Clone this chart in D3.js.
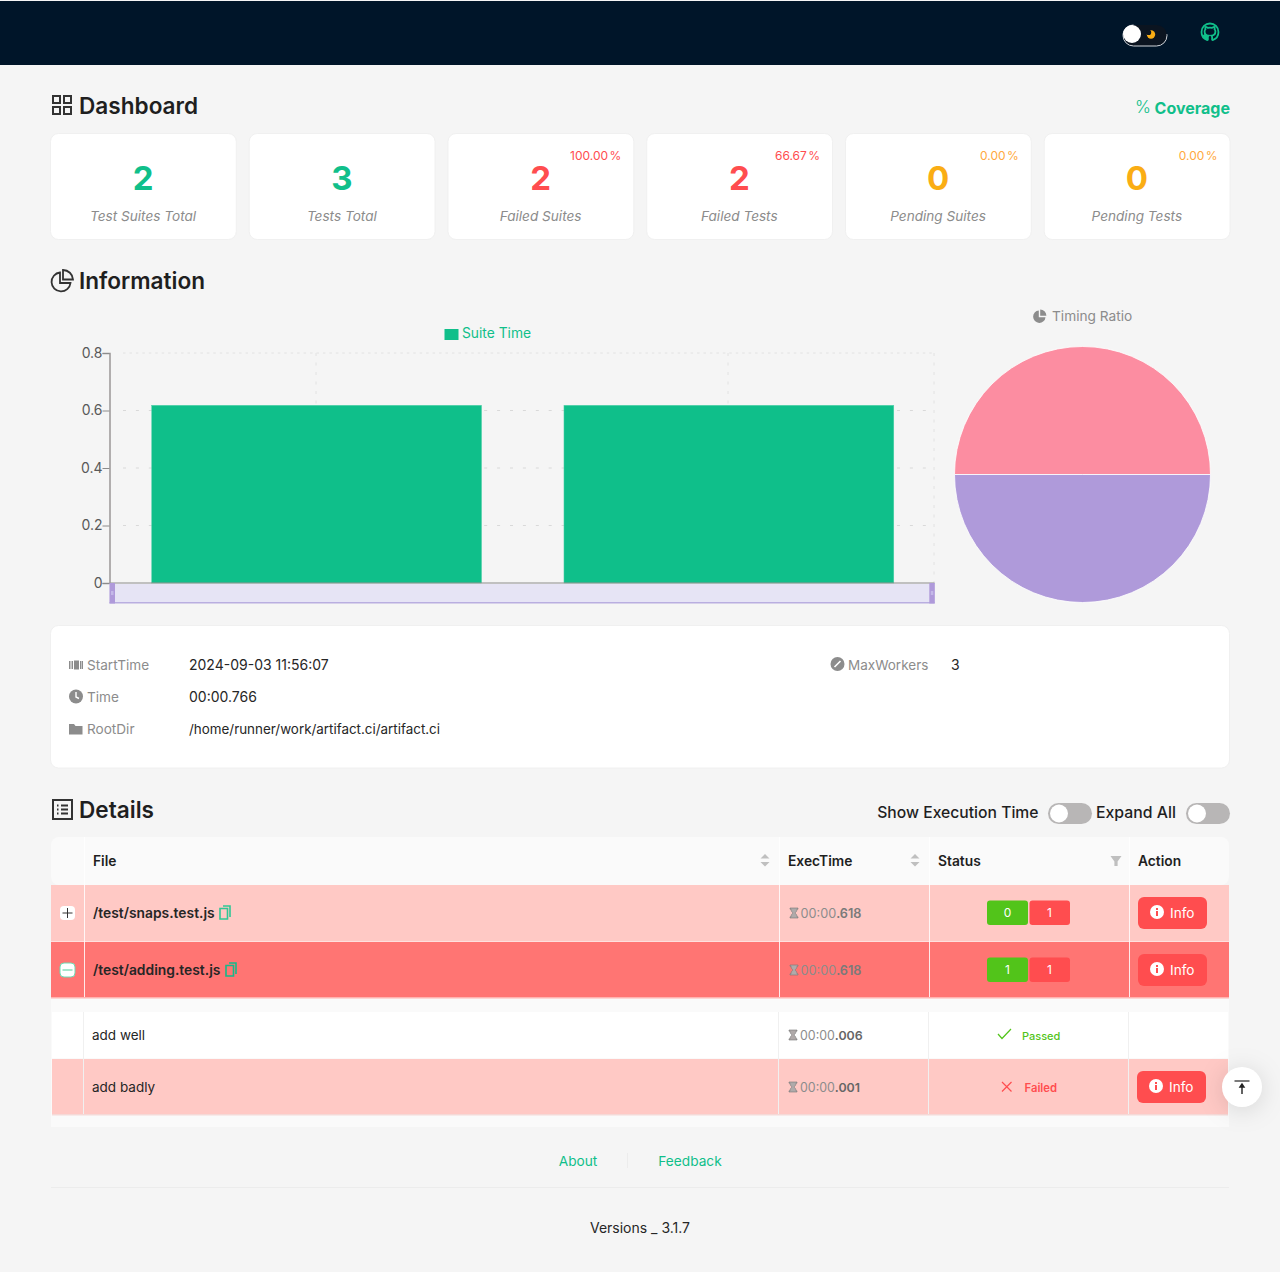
<!DOCTYPE html>
<html>
<head>
<meta charset="utf-8">
<script src="https://cdn.jsdelivr.net/npm/d3@7"></script>
<style>
  html, body { margin: 0; padding: 0; background: #f5f5f5; }
  svg { display: block; font-family: Inter, "Noto Sans", sans-serif; }
</style>
</head>
<body>
<svg id="page" width="1280" height="1272"></svg>
<script>
// summary cards
const cardLabels = ["Test Suites Total", "Tests Total", "Failed Suites", "Failed Tests", "Pending Suites", "Pending Tests"];
const cardValues = [2, 3, 2, 2, 0, 0];
const cardPercents = ["", "", "100.00", "66.67", "0.00", "0.00"];
const cardColors = ["#10bf8a", "#10bf8a", "#ff4d4f", "#ff4d4f", "#faad14", "#faad14"];

// suite time chart
const suiteNames = ["/test/snaps.test.js", "/test/adding.test.js"];
const suiteTimes = [0.618, 0.618];
const yTicks = [0, 0.2, 0.4, 0.6, 0.8];

// info block
const infoLabels = ["StartTime", "Time", "RootDir"];
const infoValues = ["2024-09-03 11:56:07", "00:00.766", "/home/runner/work/artifact.ci/artifact.ci"];

// table
const suiteExec = [".618", ".618"];
const suitePassed = [0, 1];
const suiteFailed = [1, 1];
const testNames = ["add well", "add badly"];
const testExec = [".006", ".001"];
const testStatus = ["Passed", "Failed"];

const svg = d3.select("#page");
const green = "#10bf8a", red = "#ff4d4f", okGreen = "#52c41a", dark = "#1f1f1f", grey = "#8c8c8c";

function txt(x, y, s, o = {}) {
  return svg.append("text").attr("x", x).attr("y", y).text(s)
    .attr("font-size", o.size || 14).attr("font-weight", o.weight || 400)
    .attr("fill", o.fill || dark).attr("text-anchor", o.anchor || "start")
    .attr("font-style", o.style || "normal");
}
function box(x, y, w, h, fill, r = 0) {
  return svg.append("rect").attr("x", x).attr("y", y).attr("width", w).attr("height", h).attr("rx", r).attr("fill", fill);
}
function icon(x, y, d, s, o = {}) {
  return svg.append("path").attr("transform", `translate(${x},${y}) scale(${s})`).attr("d", d)
    .attr("fill", o.fill || "none").attr("stroke", o.stroke || "none").attr("stroke-width", o.sw || 0);
}

// header bar
box(0, 1, 1280, 64, "#001529");
box(1123, 25, 44, 21, "#0b1420", 10.5).attr("stroke", "#cfd3d8").attr("stroke-width", 1).attr("stroke-dasharray", "0 38 60");
svg.append("circle").attr("cx", 1132).attr("cy", 34).attr("r", 9).attr("fill", "#fff");
svg.append("circle").attr("cx", 1151).attr("cy", 34.5).attr("r", 4.2).attr("fill", "#faad14");
svg.append("circle").attr("cx", 1148.6).attr("cy", 32.4).attr("r", 2.6).attr("fill", "#0b1420");
icon(1201.5, 23.5, "M8 0C3.58 0 0 3.58 0 8c0 3.54 2.29 6.53 5.47 7.59.4.07.55-.17.55-.38 0-.19-.01-.82-.01-1.49-2.01.37-2.53-.49-2.69-.94-.09-.23-.48-.94-.82-1.13-.28-.15-.68-.52-.01-.53.63-.01 1.08.58 1.23.82.72 1.21 1.87.87 2.33.66.07-.52.28-.87.51-1.07-1.78-.2-3.64-.89-3.64-3.95 0-.87.31-1.59.82-2.15-.08-.2-.36-1.02.08-2.12 0 0 .67-.21 2.2.82.64-.18 1.32-.27 2-.27.68 0 1.36.09 2 .27 1.53-1.04 2.2-.82 2.2-.82.44 1.1.16 1.92.08 2.12.51.56.82 1.27.82 2.15 0 3.07-1.87 3.75-3.65 3.95.29.25.54.73.54 1.48 0 1.07-.01 1.93-.01 2.2 0 .21.15.46.55.38A8.013 8.013 0 0016 8c0-4.42-3.58-8-8-8z", 1.06, { stroke: green, sw: 1.7 });

// section titles
icon(52, 95, "M1 1h7v7H1zM12 1h7v7h-7zM1 12h7v7H1zM12 12h7v7h-7z", 1, { stroke: "#333", sw: 2 });
txt(79, 114, "Dashboard", { size: 22.6, weight: 600 });
icon(51, 269, "M9 3.5a9.5 9.5 0 1 0 10.5 10.5H9z M12 1v9.5h10A10 10 0 0 0 12 1z", 1, { stroke: "#333", sw: 1.8 });
txt(79, 289, "Information", { size: 22.6, weight: 600 });
icon(52, 799, "M1 1h19v19H1z M5 6.5h1.5M5 10.5h1.5M5 14.5h1.5M9 6.5h7M9 10.5h7M9 14.5h7", 1, { stroke: "#333", sw: 2 });
txt(79, 818, "Details", { size: 22.6, weight: 600 });

// coverage link
txt(1135, 113, "%", { size: 17, weight: 300, fill: green });
txt(1230, 114, "Coverage", { size: 16, weight: 700, fill: green, anchor: "end" });

// summary cards
const cardX = d3.scaleBand().domain(d3.range(cardLabels.length)).range([51, 1229.5]).paddingInner(0.0702).paddingOuter(0);
cardLabels.forEach((label, i) => {
  const x = cardX(i), w = cardX.bandwidth();
  box(x - 0.5, 133.5, w + 1, 106, "#fff", 8).attr("stroke", "#f0f0f0");
  txt(x + w / 2 - 0.3, 190, cardValues[i], { size: 33, weight: 700, fill: cardColors[i], anchor: "middle" });
  txt(x + w / 2 - 0.3, 221, label, { size: 13.6, fill: grey, anchor: "middle", style: "italic" });
  if (cardPercents[i]) {
    txt(x + w - 12, 160, cardPercents[i] + " %", { size: 12, fill: i < 4 ? red : "#ffa940", anchor: "end" }).attr("word-spacing", -2);
  }
});

// bar chart
const x = d3.scaleBand().domain(suiteNames).range([110.5, 935]).paddingInner(0.2).paddingOuter(0.1);
const xOuter = d3.scaleBand().domain(suiteNames).range([110, 934]);
const y = d3.scaleLinear().domain([0, 0.8]).range([583, 353]);

const chart = svg.append("g");
chart.selectAll("line.gy").data(yTicks.slice(1)).join("line").attr("class", "gy")
  .attr("x1", 123).attr("x2", 934).attr("y1", d => y(d)).attr("y2", d => y(d))
  .attr("stroke", d => d === 0.8 ? "#e2e2e2" : "#d9d9d9").attr("stroke-dasharray", d => d === 0.8 ? "2.5,3.95" : "3,9.9");
chart.selectAll("line.gx").data(suiteNames).join("line").attr("class", "gx")
  .attr("x1", d => xOuter(d) + xOuter.bandwidth() / 2).attr("x2", d => xOuter(d) + xOuter.bandwidth() / 2)
  .attr("y1", y(0.8)).attr("y2", y(0))
  .attr("stroke", "#e2e2e2").attr("stroke-dasharray", "3,6.5");
chart.append("line").attr("x1", 934).attr("x2", 934).attr("y1", y(0.8)).attr("y2", y(0))
  .attr("stroke", "#e2e2e2").attr("stroke-dasharray", "3,6.5");

chart.selectAll("rect.bar").data(suiteTimes).join("rect").attr("class", "bar")
  .attr("x", (d, i) => x(suiteNames[i])).attr("width", x.bandwidth())
  .attr("y", d => y(d)).attr("height", d => y(0) - y(d))
  .attr("fill", "#0fbf8a").attr("stroke", "#4fd0a8").attr("stroke-width", 0.5);

const yAxis = d3.axisLeft(y).tickValues(yTicks).tickSize(7).tickPadding(0).tickFormat(d => d === 0 ? "0" : d3.format(".1f")(d));
const yG = svg.append("g").attr("transform", "translate(109.5,0)").call(yAxis);
yG.select(".domain").attr("stroke", "#9b9797").attr("stroke-width", 1.5);
yG.selectAll(".tick line").attr("stroke", "#8c8c8c");
yG.selectAll("text").attr("font-size", 14).attr("fill", "#595959").attr("font-family", "Inter");

const xAxis = d3.axisBottom(xOuter).tickSize(0).tickFormat("");
const xG = svg.append("g").attr("transform", `translate(0,${y(0) - 0.5})`).call(xAxis);
xG.select(".domain").attr("stroke", "#8c8c8c").attr("stroke-width", 1.2);

// slider under the chart
box(109.5, 584, 825, 19, "#e6e4f5");
box(109.5, 602, 825, 1.5, "#b9aee0");
[109.5, 929.3].forEach(hx => {
  box(hx, 583, 5.5, 20.5, "#af9ada");
  box(hx + 1.5, 591, 2.5, 4, "#c4b8e8");
});

// legend
box(444.5, 329, 14, 11, green);
txt(462, 338, "Suite Time", { size: 13.8, fill: green });

// pie
const pie = d3.pie().sort(null).startAngle(-Math.PI / 2).endAngle(Math.PI * 1.5);
const arc = d3.arc().innerRadius(0).outerRadius(128);
const pieColors = ["#fc8da1", "#af9ada"];
svg.append("g").attr("transform", "translate(1082.5,474.5)")
  .selectAll("path").data(pie(suiteTimes)).join("path")
  .attr("d", arc).attr("fill", (d, i) => pieColors[i]).attr("stroke", "#fff").attr("stroke-width", 0.8);
icon(1033, 309.5, "M5.8 1a6.2 6.2 0 1 0 6.7 6.7H5.8z M7.2 0v6.2h6.2A6.4 6.4 0 0 0 7.2 0z", 1, { fill: grey });
txt(1052, 321, "Timing Ratio", { size: 13.7, fill: grey });

// info block
box(50.5, 625.5, 1179, 142.5, "#fff", 8).attr("stroke", "#f0f0f0");
const infoY = d3.scalePoint().domain(infoLabels).range([670, 734]);
infoLabels.forEach((label, i) => {
  txt(87, infoY(label), label, { size: 13.6, fill: grey });
  txt(189, infoY(label), infoValues[i], { size: i === 2 ? 13.4 : 14, fill: "#262626" });
});
icon(69, 660, "M0 1h1.5v8H0zM2.5 1H4v8H2.5zM5 0.5h5v9H5zM11 1h1.5v8H11zM13 1h1v8h-1z", 1, { fill: grey });
svg.append("circle").attr("cx", 76).attr("cy", 696.5).attr("r", 7).attr("fill", grey);
icon(76, 692, "M0 0v5l3 1.5", 1, { stroke: "#fff", sw: 1.4 });
icon(69, 723, "M0 1h5l1.5 2H13.5v8.5H0z", 1, { fill: grey });
svg.append("circle").attr("cx", 837.5).attr("cy", 664).attr("r", 7).attr("fill", grey);
icon(837.5, 664, "M-3 3L1-1M1-1L3-3", 1, { stroke: "#fff", sw: 1.6 });
txt(848, 670, "MaxWorkers", { size: 13.5, fill: grey });
txt(951, 670, "3", { fill: "#262626" });

// toggles
function toggle(cx) {
  box(cx, 803, 44, 21, "#b8b6b6", 10.5);
  svg.append("circle").attr("cx", cx + 11).attr("cy", 813.5).attr("r", 9).attr("fill", "#fff");
}
txt(1038.5, 818, "Show Execution Time", { size: 15.7, weight: 500, anchor: "end" });
toggle(1048);
txt(1096, 818, "Expand All", { size: 15.8, weight: 500 });
toggle(1186);

// table head
const cols = [84.5, 779.5, 929.5, 1129.5];
box(51, 837, 1178, 48, "#fafafa", 8);
[["File", 93], ["ExecTime", 788], ["Status", 938], ["Action", 1138]].forEach(h => txt(h[1], 866, h[0], { size: 13.8, weight: 600, fill: "#1f1f1f" }));
[765, 915].forEach(sx => {
  icon(sx, 854, "M-4.5 4.5L0 0L4.5 4.5z M-4.5 8L0 12.5L4.5 8z", 1, { fill: "#bfbfbf" });
});
icon(1116, 856, "M-5.5 0h11L1.6 5.5V10H-1.6V5.5z", 1, { fill: "#bfbfbf" });

function hourglass(hx, hy) {
  icon(hx, hy, "M0 0h8v1.2H7c0 2.5-1.5 3-2 3.8.5.8 2 1.3 2 3.8h1V10H0V8.8h1c0-2.5 1.5-3 2-3.8-.5-.8-2-1.3-2-3.8H0z", 1, { fill: "#b0aaaa", stroke: "#777", sw: 0.6 });
}
function execText(ex, ey, tail, f1, f2, size, w) {
  const t = txt(ex, ey, "", { size: size, fill: f1 });
  t.append("tspan").text("00:00");
  t.append("tspan").text(tail).attr("fill", f2).attr("font-weight", w);
}
function infoButton(bx, by, fill) {
  box(bx, by, 69, 32, fill, 6);
  svg.append("circle").attr("cx", bx + 19).attr("cy", by + 15).attr("r", 7).attr("fill", "#fff");
  box(bx + 18, by + 14, 2, 5, fill);
  box(bx + 18, by + 11, 2, 2, fill);
  txt(bx + 32, by + 21, "Info", { size: 13.6, fill: "#fff" });
}

// suite rows
const rowBg = ["#ffc9c5", "#ff7573"];
const rowTop = [885, 942];
suiteNames.forEach((name, i) => {
  const t = rowTop[i];
  box(51, t, 1178, 56, rowBg[i]);
  txt(93, t + 33, name, { size: 13.85, weight: 600, fill: "#262626" });
  const nameEnd = 93 + (i === 0 ? 122 : 128) + 5;
  icon(nameEnd, t + 21, "M3 0h7v11M0 2.5h7.5V13H0z", 1, { stroke: i === 0 ? "#2fc795" : "#14b98a", sw: 1.6 });
  hourglass(790, t + 23);
  execText(800.5, t + 33, suiteExec[i], "#8c8c8c", "#7a7a7a", 12.7, 600);
  box(987, t + 15.5, 41, 24.5, okGreen, 3);
  txt(1007.5, t + 32, suitePassed[i], { size: 12, fill: "#fff", anchor: "middle" });
  box(1029.5, t + 15.5, 40.5, 24.5, red, 3);
  txt(1049.5, t + 32, suiteFailed[i], { size: 12, fill: "#fff", anchor: "middle" });
  infoButton(1138, t + 12, red);
});
box(51, 941, 1178, 1, "#ffe0de");
cols.forEach(cx => svg.append("line").attr("x1", cx).attr("x2", cx).attr("y1", 837).attr("y2", 997).attr("stroke", "#fff").attr("opacity", 0.85));

// expand buttons
box(60, 906, 15, 14, "#fff", 4);
icon(67.5, 913, "M-5 0H5M0 -5V5", 1, { stroke: "#333", sw: 1 });
box(60, 963, 15, 14, "#fff", 4).attr("stroke", "#6fdcb4");
icon(67.5, 970, "M-5 0H5", 1, { stroke: "#8fe0c0", sw: 1.6 });

// expanded test rows
box(51, 998, 1178, 129, "#fafafa");
box(51, 997, 1178, 1.5, "#ffb3b0");
const testTop = [1012, 1059], testH = [46, 55], testBg = ["#fff", "#ffc9c5"];
testNames.forEach((name, i) => {
  const t = testTop[i];
  box(52, t, 1176, testH[i], testBg[i]);
  const base = i === 0 ? 1040 : 1092;
  txt(92, base, name, { size: 13.5, fill: "#262626" });
  hourglass(789, base - 10);
  execText(800, base, testExec[i], "#8c8c8c", "#666", 12.4, 600);
  if (testStatus[i] === "Passed") {
    icon(998, base - 11, "M0 5L4 9.5L13 0", 1, { stroke: okGreen, sw: 1.2 });
    txt(1022, base, testStatus[i], { size: 11, weight: 500, fill: okGreen });
  } else {
    icon(1002, base - 10, "M0 0L9.5 9.5M9.5 0L0 9.5", 1, { stroke: red, sw: 1.2 });
    txt(1024.5, base, testStatus[i], { size: 11.3, weight: 600, fill: red });
    infoButton(1137, base - 21, red);
  }
});
box(52, 1114, 1176, 1.5, "#f5d9d7");
[83.5, 778.5, 928.5, 1128.5].forEach(cx => svg.append("line").attr("x1", cx).attr("x2", cx).attr("y1", 1012).attr("y2", 1114).attr("stroke", "#f0f0f0"));

// back to top button
svg.append("circle").attr("cx", 1242).attr("cy", 1087).attr("r", 20).attr("fill", "#fff")
  .style("filter", "drop-shadow(0 3px 12px rgba(0,0,0,0.13))");
icon(1242, 1081, "M-7.5 0H7.5", 1, { stroke: "#222", sw: 1.2 });
icon(1242, 1084, "M0 10V0M-2 3L0 0L2 3z", 1, { stroke: "#222", sw: 1.4, fill: "#222" });

// footer
txt(578, 1166, "About", { size: 13.7, fill: green, anchor: "middle" });
svg.append("line").attr("x1", 627.5).attr("x2", 627.5).attr("y1", 1153).attr("y2", 1168).attr("stroke", "#ececec");
txt(690, 1166, "Feedback", { size: 13.7, fill: green, anchor: "middle" });
box(51, 1187, 1178, 1, "#ececec");
txt(640, 1233, "Versions _ 3.1.7", { fill: "#262626", anchor: "middle" });
</script>
</body>
</html>
